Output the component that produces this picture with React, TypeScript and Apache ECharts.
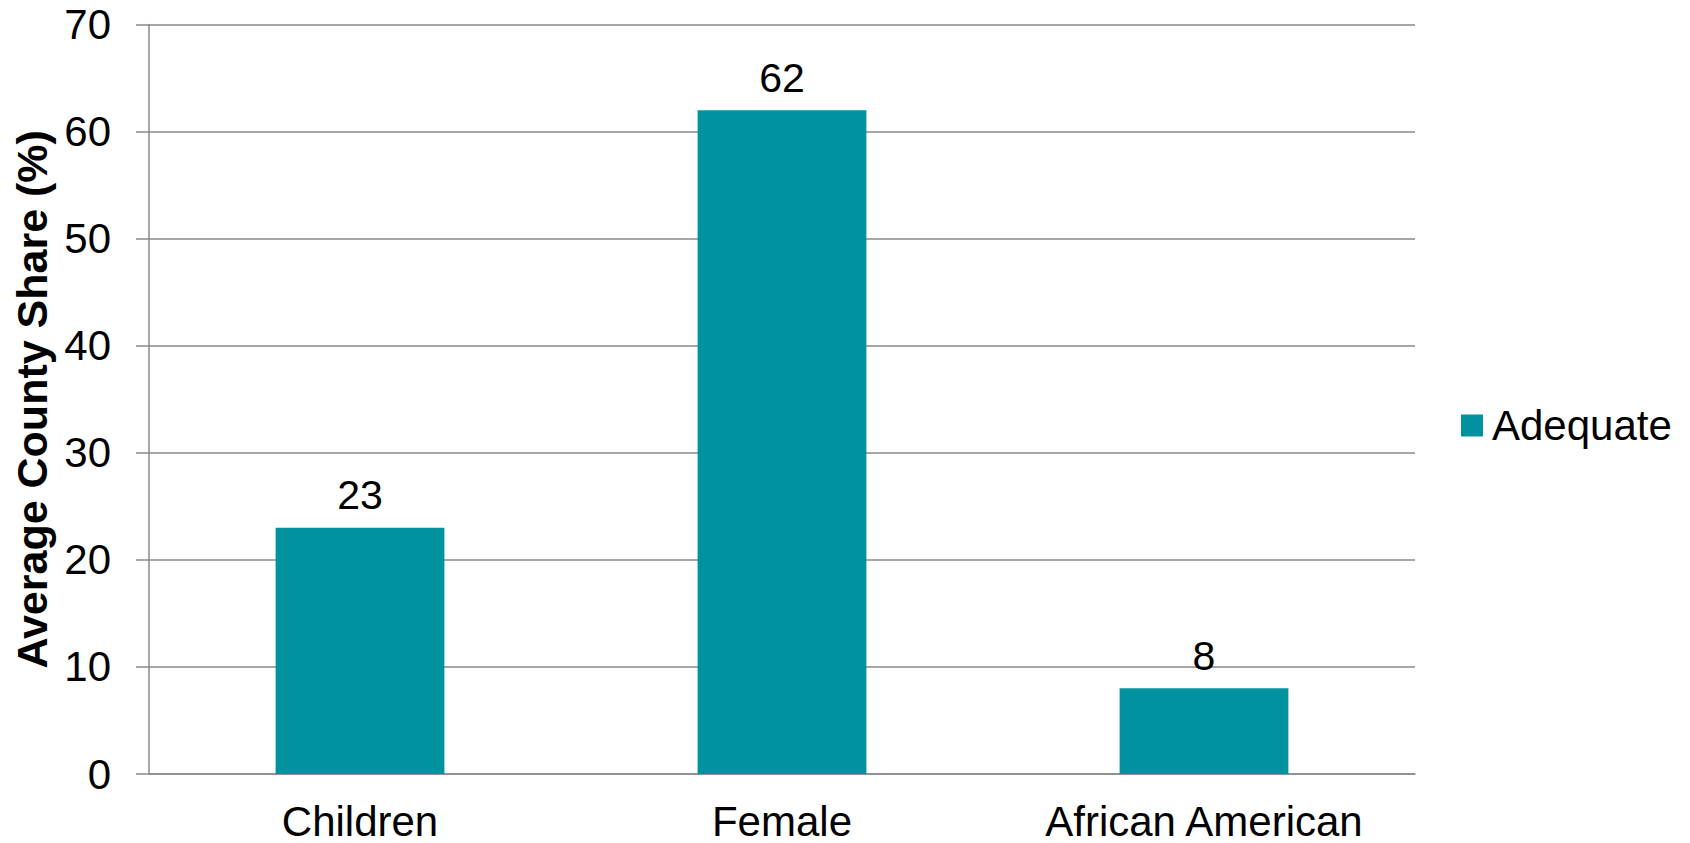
import React, { useEffect, useRef } from "react";
import * as echarts from "echarts";

const categories = ["Children", "Female", "African American"];
const adequate = [23, 62, 8];
const yTicks = { min: 0, max: 70, interval: 10 };
const seriesName = "Adequate";
const yTitle = "Average County Share (%)";

const FONT = "'Liberation Sans', Arial, Helvetica, sans-serif";

export default function App() {
  const ref = useRef<HTMLDivElement>(null);
  useEffect(() => {
    if (!ref.current) return;
    const chart = echarts.init(ref.current, undefined, { renderer: "svg" });
    chart.setOption({
      animation: false,
      backgroundColor: "#ffffff",
      textStyle: { fontFamily: FONT },
      grid: { left: 149, right: 275, top: 24.6, bottom: 69, containLabel: false },
      legend: {
        show: true,
        left: 1461,
        top: 404.5,
        padding: 0,
        orient: "vertical",
        itemWidth: 22,
        itemHeight: 22,
        itemGap: 10,
        icon: "rect",
        textStyle: { fontSize: 42, color: "#000", fontFamily: FONT, padding: [0, 0, 0, 4] },
        data: [seriesName],
      },
      xAxis: {
        type: "category",
        data: categories,
        axisLine: { show: true, lineStyle: { color: "#8a8a8a", width: 1.5 } },
        axisTick: { show: false },
        axisLabel: { fontSize: 42, lineHeight: 36, color: "#000", margin: 29, fontFamily: FONT, interval: 0 },
        splitLine: { show: false },
      },
      yAxis: {
        type: "value",
        min: yTicks.min,
        max: yTicks.max,
        interval: yTicks.interval,
        name: yTitle,
        nameLocation: "middle",
        nameGap: 90,
        nameRotate: 90,
        nameTextStyle: { fontSize: 43, fontWeight: "bold", color: "#000", fontFamily: FONT },
        axisLine: { show: true, lineStyle: { color: "#8a8a8a", width: 1.5 } },
        axisTick: { show: true, length: 13, lineStyle: { color: "#8a8a8a", width: 1.5 } },
        axisLabel: { fontSize: 42, color: "#000", margin: 38, fontFamily: FONT },
        splitLine: { show: true, lineStyle: { color: "#8a8a8a", width: 1.5 } },
      },
      series: [
        {
          name: seriesName,
          type: "bar",
          data: adequate,
          barWidth: "40%",
          itemStyle: { color: "#00929f" },
          label: {
            show: true,
            position: "top",
            distance: 12,
            fontSize: 41,
            color: "#000",
            fontFamily: FONT,
          },
        },
      ],
    });
    return () => chart.dispose();
  }, []);
  return (
    <div
      ref={ref}
      style={{ position: "fixed", left: 0, top: 0, width: 1690, height: 843, background: "#fff" }}
    />
  );
}
